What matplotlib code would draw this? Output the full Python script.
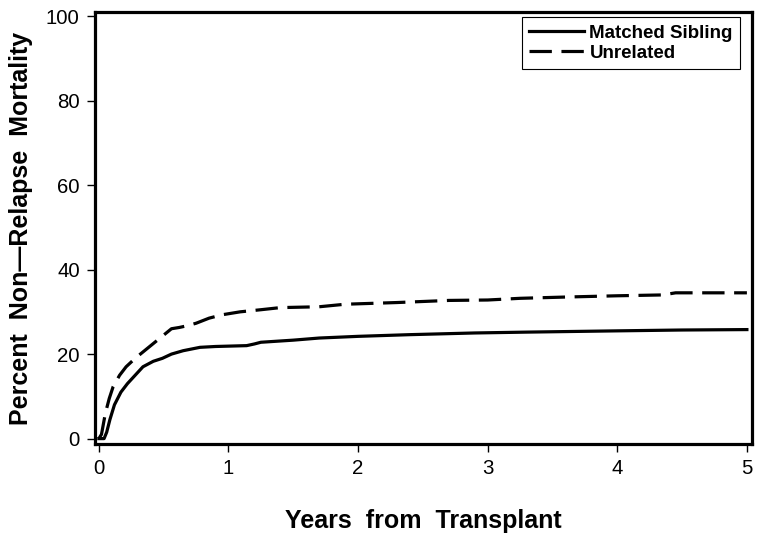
import matplotlib
matplotlib.use('Agg')
import matplotlib.pyplot as plt

plt.rcParams['font.family'] = ['Liberation Sans', 'DejaVu Sans']

# years from transplant / percent NRM
t_sib = [0, 0.04, 0.06, 0.085, 0.12, 0.17, 0.22, 0.28, 0.34, 0.42, 0.49, 0.56,
         0.65, 0.78, 0.9, 1.14, 1.2, 1.25, 1.5, 1.7, 2.0, 2.4, 2.9, 3.3, 4.0, 4.5, 5.0]
y_sib = [0, 0, 1.5, 4.5, 8, 11, 13, 15, 17, 18.3, 19, 20,
         20.8, 21.6, 21.8, 22, 22.4, 22.8, 23.3, 23.8, 24.2, 24.6, 25.0, 25.2, 25.5, 25.7, 25.8]

t_unr = [0, 0.02, 0.05, 0.08, 0.11, 0.16, 0.21, 0.28, 0.34, 0.42, 0.5, 0.56, 0.62,
         0.68, 0.75, 0.85, 0.95, 1.09, 1.25, 1.4, 1.7, 1.9, 2.3, 2.7, 3.0, 3.25,
         3.6, 4.0, 4.35, 4.45, 5.0]
y_unr = [0, 1, 6, 9.5, 12.3, 15, 17, 19, 20.5, 22.5, 24.5, 26, 26.3,
         26.7, 27.3, 28.5, 29.3, 30, 30.5, 31, 31.2, 31.8, 32.2, 32.7, 32.8, 33.2,
         33.5, 33.8, 34.0, 34.5, 34.5]

xticks = [0, 1, 2, 3, 4, 5]
yticks = [0, 20, 40, 60, 80, 100]

fig = plt.figure(figsize=(7.57, 5.37), dpi=100)
ax = fig.add_axes([0.1255, 0.173, 0.868, 0.805])

ax.plot(t_sib, y_sib, color='black', lw=2.3, label='Matched Sibling')
ax.plot(t_unr, y_unr, color='black', lw=2.3, dashes=(7, 3), label='Unrelated')

ax.set_xlim(-0.03, 5.04)
ax.set_ylim(-1.3, 101)
ax.set_xticks(xticks)
ax.set_yticks(yticks)
ax.tick_params(direction='out', length=6, width=1, labelsize=14.7, pad=5)
for s in ax.spines.values():
    s.set_linewidth(2.3)

ax.set_xlabel('Years  from  Transplant', fontsize=18, fontweight='bold', labelpad=22)
ax.set_ylabel('Percent  Non\u2014Relapse  Mortality', fontsize=18, fontweight='bold', labelpad=9)

leg = ax.legend(loc='upper right', prop={'size': 13.5, 'weight': 'bold'},
                handlelength=2.9, fancybox=False, framealpha=1,
                borderpad=0.4, labelspacing=0.15, handletextpad=0.3,
                borderaxespad=0, bbox_to_anchor=(0.982, 0.988))
leg.get_frame().set_edgecolor('black')
leg.get_frame().set_linewidth(0.8)

fig.savefig('out.png', dpi=100)
